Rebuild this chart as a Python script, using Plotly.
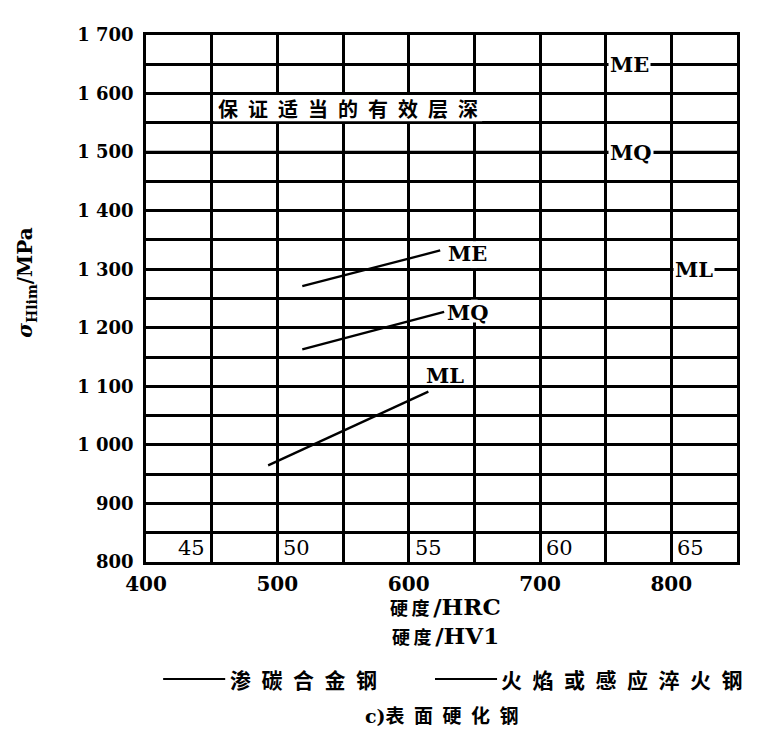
import plotly.graph_objects as go

# ---------------- data ----------------
hv_range = [400, 850]
sigma_range = [800, 1700]

x_tick_vals = [400, 500, 600, 700, 800]
x_tick_text = ["400", "500", "600", "700", "800"]
x_minor_vals = [450, 550, 650, 750, 850]
y_tick_vals = [800, 900, 1000, 1100, 1200, 1300, 1400, 1500, 1600, 1700]
y_tick_text = ["800", "900", "1 000", "1 100", "1 200",
               "1 300", "1 400", "1 500", "1 600", "1 700"]
y_minor_vals = [850, 950, 1050, 1150, 1250, 1350, 1450, 1550, 1650]

# carburized alloy steel (horizontal limits)
carb_grades = ["ME", "MQ", "ML"]
carb_sigma = [1650, 1500, 1300]
carb_label_hv = [750, 750, 800]

# flame or induction hardened steel (sloped)
flame_grades = ["ME", "MQ", "ML"]
flame_hv = [[519, 624], [519, 627], [493, 615]]
flame_sigma = [[1271, 1332], [1163, 1227], [965, 1091]]
flame_label_hv = [645, 645, 628]
flame_label_sigma = [1327, 1226, 1118]

hrc_labels = ["45", "50", "55", "60", "65"]
hrc_hv = [450, 500, 600, 700, 800]
hrc_side = ["right", "left", "left", "left", "left"]

note_text = "保证适当的有效层深"
x_title_1 = ("硬度", "/HRC")
x_title_2 = ("硬度", "/HV1")
legend_1 = "渗碳合金钢"
legend_2 = "火焰或感应淬火钢"
caption = ("c)", "表面硬化钢")

# ---------------- figure ----------------
SERIF = "DejaVu Serif, Noto Sans CJK SC"
CJK = "Noto Sans CJK SC, DejaVu Serif"
EN = "\u2002"
TH = "\u2009"


def spaced(s, sep):
    return sep.join(list(s))


fig = go.Figure()

for g, s in zip(carb_grades, carb_sigma):
    fig.add_trace(go.Scatter(x=hv_range, y=[s, s], mode="lines",
                             line=dict(color="black", width=2.6),
                             name="渗碳合金钢 " + g, showlegend=False))

for g, xs, ys in zip(flame_grades, flame_hv, flame_sigma):
    fig.add_trace(go.Scatter(x=xs, y=ys, mode="lines",
                             line=dict(color="black", width=2.3),
                             name="火焰或感应淬火钢 " + g, showlegend=False))

ann = []
for g, s, hv in zip(carb_grades, carb_sigma, carb_label_hv):
    ann.append(dict(x=hv, y=s, xref="x", yref="y", text=g, showarrow=False,
                    xanchor="left", yanchor="middle", xshift=2,
                    bgcolor="white", borderpad=1,
                    font=dict(family=SERIF, size=21, color="black", weight="bold")))
for g, hv, s in zip(flame_grades, flame_label_hv, flame_label_sigma):
    ann.append(dict(x=hv, y=s, xref="x", yref="y", text=g, showarrow=False,
                    xanchor="center", yanchor="middle",
                    font=dict(family=SERIF, size=21, color="black", weight="bold")))
for t, hv, side in zip(hrc_labels, hrc_hv, hrc_side):
    ann.append(dict(x=hv, y=sigma_range[0], xref="x", yref="y", text=t, showarrow=False,
                    xanchor=side, yanchor="bottom",
                    xshift=(-5 if side == "right" else 4), yshift=0,
                    font=dict(family=SERIF, size=21, color="black")))
ann.append(dict(x=453, y=1575, xref="x", yref="y", text=spaced(note_text, EN),
                showarrow=False, xanchor="left", yanchor="middle",
                font=dict(family=CJK, size=20, color="black", weight="bold")))
ann.append(dict(x=-0.203, y=0.53, xref="paper", yref="paper",
                text="<i>σ</i><sub>Hlim</sub>/MPa", textangle=-90, showarrow=False,
                xanchor="center", yanchor="middle",
                font=dict(family=SERIF, size=20, color="black", weight="bold")))


def x_title(parts):
    cjk, latin = parts
    return (spaced(cjk, TH) + TH + "<span style='font-size:23px'>" + latin + "</span>")


ann.append(dict(x=0.506, y=-0.084, xref="paper", yref="paper",
                text=x_title(x_title_1), showarrow=False,
                xanchor="center", yanchor="middle",
                font=dict(family=SERIF, size=18, color="black", weight="bold")))
ann.append(dict(x=0.506, y=-0.139, xref="paper", yref="paper",
                text=x_title(x_title_2), showarrow=False,
                xanchor="center", yanchor="middle",
                font=dict(family=SERIF, size=18, color="black", weight="bold")))
ann.append(dict(x=0.139, y=-0.222, xref="paper", yref="paper",
                text=spaced(legend_1, EN), showarrow=False,
                xanchor="left", yanchor="middle",
                font=dict(family=CJK, size=21, color="black", weight="bold")))
ann.append(dict(x=0.598, y=-0.222, xref="paper", yref="paper",
                text=spaced(legend_2, EN), showarrow=False,
                xanchor="left", yanchor="middle",
                font=dict(family=CJK, size=21, color="black", weight="bold")))
ann.append(dict(x=0.50, y=-0.29, xref="paper", yref="paper",
                text="<span style='font-family:DejaVu Serif'>" + caption[0] + "</span>"
                     + spaced(caption[1], EN),
                showarrow=False, xanchor="center", yanchor="middle",
                font=dict(family=CJK, size=19, color="black", weight="bold")))

shapes = [
    dict(type="rect", xref="x", yref="y", x0=451.6, x1=656, y0=1552.6, y1=1597.4,
         fillcolor="white", line=dict(width=0), layer="above"),
    dict(type="rect", xref="x", yref="y", x0=647.5, x1=652.5, y0=1302, y1=1348,
         fillcolor="white", line=dict(width=0), layer="above"),
    dict(type="rect", xref="x", yref="y", x0=647.5, x1=652.5, y0=1209, y1=1248,
         fillcolor="white", line=dict(width=0), layer="above"),
    dict(type="line", xref="paper", yref="paper", x0=0.029, x1=0.134, y0=-0.222, y1=-0.222,
         line=dict(color="black", width=2)),
    dict(type="line", xref="paper", yref="paper", x0=0.489, x1=0.594, y0=-0.222, y1=-0.222,
         line=dict(color="black", width=2)),
]

fig.update_layout(
    width=763, height=724,
    margin=dict(l=138, r=34, t=27, b=170),
    paper_bgcolor="white", plot_bgcolor="white",
    showlegend=False,
    annotations=ann, shapes=shapes,
    font=dict(family=SERIF, color="black"),
)
fig.update_xaxes(range=hv_range, tickmode="array", tickvals=x_tick_vals, ticktext=x_tick_text,
                 showgrid=True, gridcolor="black", gridwidth=2.6,
                 minor=dict(tickmode="array", tickvals=x_minor_vals, showgrid=True,
                            gridcolor="black", gridwidth=2.6, ticks=""),
                 showline=True, linecolor="black", linewidth=2.6, mirror=True,
                 zeroline=False, ticks="", ticklabelstandoff=2,
                 tickfont=dict(family=SERIF, size=20, color="black", weight="bold"))
fig.update_yaxes(range=sigma_range, tickmode="array", tickvals=y_tick_vals, ticktext=y_tick_text,
                 showgrid=True, gridcolor="black", gridwidth=2.6,
                 minor=dict(tickmode="array", tickvals=y_minor_vals, showgrid=True,
                            gridcolor="black", gridwidth=2.6, ticks=""),
                 showline=True, linecolor="black", linewidth=2.6, mirror=True,
                 zeroline=False, ticks="", ticklabelstandoff=6,
                 tickfont=dict(family=SERIF, size=18, color="black", weight="bold"))

fig.write_html("out.html")
